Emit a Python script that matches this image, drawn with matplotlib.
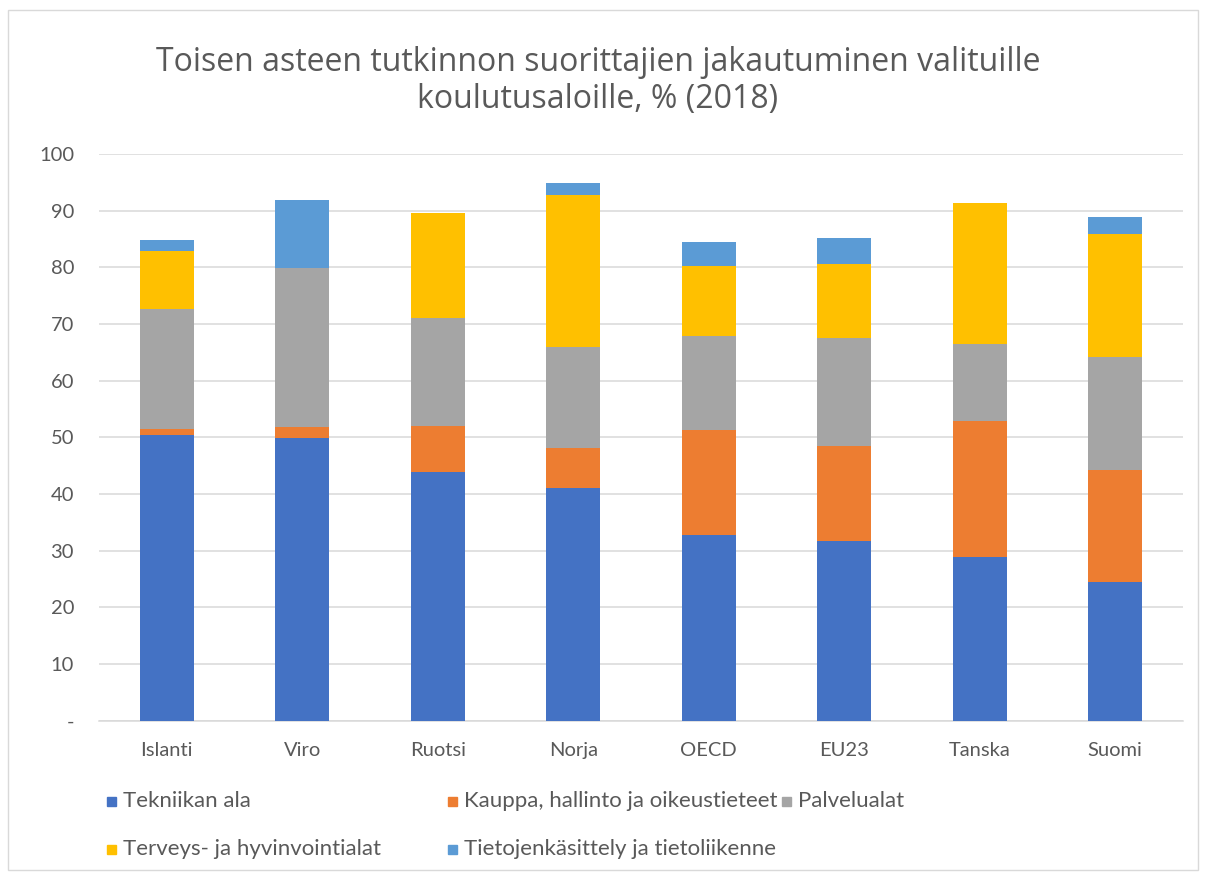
import matplotlib
matplotlib.use("Agg")
import matplotlib.pyplot as plt
from matplotlib.patches import Rectangle
from matplotlib.ticker import FuncFormatter
import numpy as np

plt.rcParams['font.family'] = ['Lato', 'DejaVu Sans']

categories = ["Islanti", "Viro", "Ruotsi", "Norja", "OECD", "EU23", "Tanska", "Suomi"]
series_names = ["Tekniikan ala", "Kauppa, hallinto ja oikeustieteet", "Palvelualat",
                "Terveys- ja hyvinvointialat", "Tietojenkäsittely ja tietoliikenne"]
tekniikka = [50.4, 49.8, 43.9, 41.0, 32.8, 31.7, 28.9, 24.4]
kauppa = [1.0, 2.0, 8.1, 7.2, 18.5, 16.8, 23.9, 19.8]
palvelu = [21.2, 28.0, 19.1, 17.8, 16.6, 19.1, 13.7, 19.9]
terveys = [10.3, 0.0, 18.5, 26.8, 12.4, 13.0, 24.9, 21.8]
tieto = [1.9, 12.0, 0.0, 2.0, 4.1, 4.5, 0.0, 3.0]
colors = ["#4472C4", "#ED7D31", "#A5A5A5", "#FFC000", "#5B9BD5"]
title = "Toisen asteen tutkinnon suorittajien jakautuminen valituille\nkoulutusaloille, % (2018)"

W, H = 1206, 876
fig = plt.figure(figsize=(W / 100, H / 100), dpi=100)
ax = fig.add_axes([99 / W, 1 - 720.7 / H, (1183 - 99) / W, (720.7 - 154) / H])

x = np.arange(len(categories))
bottom = np.zeros(len(categories))
for vals, c, name in zip([tekniikka, kauppa, palvelu, terveys, tieto], colors, series_names):
    ax.bar(x, vals, 0.4, bottom=bottom, color=c, label=name, zorder=3)
    bottom += np.array(vals)

ax.set_xlim(-0.5, len(categories) - 0.5)
ax.set_ylim(0, 100)
ax.set_yticks(np.arange(0, 101, 10))
ax.yaxis.set_major_formatter(FuncFormatter(lambda v, p: "-" if v == 0 else f"{int(v)}"))
ax.set_xticks(x)
ax.set_xticklabels(categories)
ax.grid(axis='y', color='#d9d9d9', linewidth=1.1, zorder=0)
for s in ['top', 'right', 'left']:
    ax.spines[s].set_visible(False)
ax.spines['bottom'].set_color('#d9d9d9')
ax.spines['bottom'].set_linewidth(1.1)
ax.tick_params(axis='both', length=0, labelsize=14.5, colors='#595959')
ax.tick_params(axis='x', pad=15)
ax.tick_params(axis='y', pad=18)

fig.text(598 / W, 1 - 81 / H, title, ha='center', va='center', fontsize=23,
         color='#595959', linespacing=1.15, family=['Open Sans', 'DejaVu Sans'])

# legend (manual layout, Excel style)
legend_pos = [(107, 801), (448, 801), (782, 801), (107, 849), (448, 849)]
for (px, py), c, name in zip(legend_pos, colors, series_names):
    fig.patches.append(Rectangle((px / W, 1 - (py + 4.5) / H), 9 / W, 9 / H,
                                 transform=fig.transFigure, color=c))
    fig.text((px + 16) / W, 1 - py / H, name, ha='left', va='center',
             fontsize=16, color='#595959')

# chart border
fig.patches.append(Rectangle((8 / W, 1 - 870 / H), (1198 - 8) / W, (870 - 10) / H,
                             transform=fig.transFigure, fill=False,
                             edgecolor='#d9d9d9', linewidth=1))

fig.savefig("out.png", dpi=100)
